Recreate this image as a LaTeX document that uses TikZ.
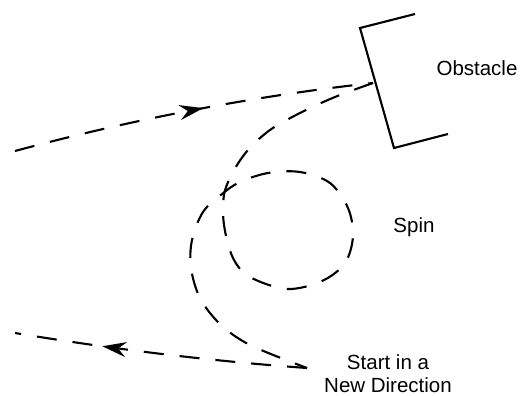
\documentclass[tikz,border=0pt]{standalone}
\usepackage{fontspec}
\setmainfont{Liberation Sans}
\usetikzlibrary{arrows.meta,decorations.markings}
\begin{document}
\begin{tikzpicture}[x=1pt,y=-1pt,
  route/.style={line width=2.1pt,dash pattern=on 20pt off 16pt},
  wall/.style={line width=2.1pt,line join=miter},
  lbl/.style={font=\fontsize{20.5}{23}\selectfont,align=center,inner sep=0pt},
  midarrow/.style={postaction={decorate},decoration={markings,
    mark=at position #1 with {\arrow[solid]{Stealth[length=24pt,width=15pt,inset=8pt]}}}}
]
\useasboundingbox (0,0) rectangle (522,396);
% obstacle
\coordinate (w1) at (415,14);
\coordinate (w2) at (360,28);
\coordinate (w3) at (394,148);
\coordinate (w4) at (448,134);
\draw[wall] (w1) -- (w2) -- (w3) -- (w4);
% key points
\coordinate (start) at (15,151);
\coordinate (hit) at (373,83);
\coordinate (turn) at (307,368);
\coordinate (finish) at (15,333);
% incoming
\draw[route,midarrow=0.53] (start) .. controls (134,119) and (254,96) .. (hit);
% bounce, spin and sweep round
\draw[route] plot[smooth,tension=0.55] coordinates {
  (373,83) (335,97) (300,113) (270,130) (248,150) (233,172) (224,195)
  (224,225) (233,258) (250,277) (287,289) (322,281) (345,263) (353,236)
  (348,208) (330,183) (300,172) (268,173) (240,182) (222,194)
  (203,212) (192,240) (191,268) (200,298) (220,324) (250,345) (307,368)};
% outgoing
\draw[route,midarrow=0.70] (turn) .. controls (210,361) and (112,349) .. (finish);
% labels
\node[lbl] (obst) at (477,68) {Obstacle};
\node[lbl] (spin) at (414,227) {Spin};
\node[lbl,anchor=north] (newdir) at (388,354) {Start in a\\New Direction};
\end{tikzpicture}
\end{document}
